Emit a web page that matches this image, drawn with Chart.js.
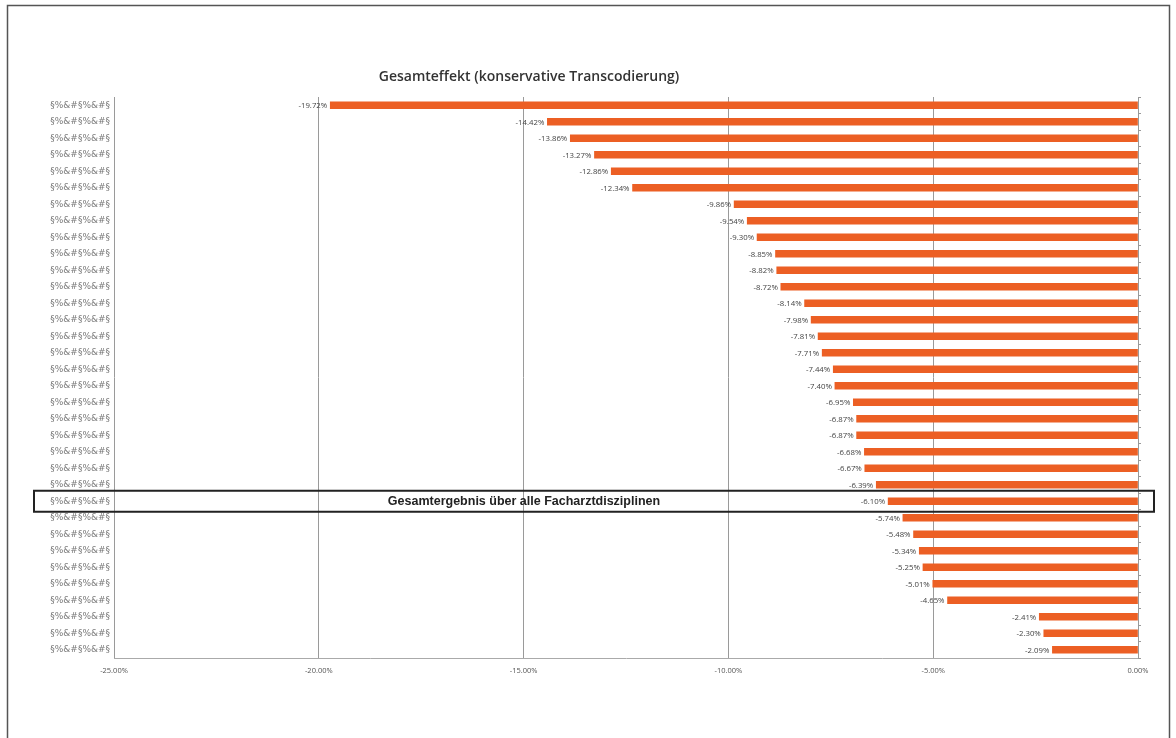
<!DOCTYPE html>
<html>
<head>
<meta charset="utf-8">
<script src="https://cdn.jsdelivr.net/npm/chart.js@4.4.1/dist/chart.umd.min.js"></script>
<style>
  html, body { margin: 0; padding: 0; background: #ffffff; }
  #wrap { width: 1176px; height: 738px; position: relative; }
</style>
</head>
<body>
<div id="wrap"><canvas id="c" width="1176" height="738"></canvas></div>
<script>
// ---- data ----
const chartTitle = "Gesamteffekt (konservative Transcodierung)";
const highlightText = "Gesamtergebnis über alle Facharztdisziplinen";
const highlightIndex = 24;
// category names are illegible (scrambled) in the reference; placeholder glyph strings
const categories = Array.from({length: 34}, () => "§%&#§%&#§");
const values = [
  -19.72, -14.42, -13.86, -13.27, -12.86, -12.34,
  -9.86, -9.54, -9.30, -8.85, -8.82, -8.72,
  -8.14, -7.98, -7.81, -7.71, -7.44, -7.40,
  -6.95, -6.87, -6.87, -6.68, -6.67, -6.39,
  -6.10,
  -5.74, -5.48, -5.34, -5.25, -5.01, -4.65,
  -2.41, -2.30, -2.09
];
const xMin = -25, xMax = 0, xStep = 5;

const overlay = {
  id: 'overlay',
  afterDatasetsDraw(chart) {
    const ctx = chart.ctx;
    const meta = chart.getDatasetMeta(0);
    ctx.save();
    // value labels
    ctx.font = '7.8px "Open Sans", sans-serif';
    ctx.fillStyle = '#444';
    ctx.textAlign = 'right';
    ctx.textBaseline = 'middle';
    meta.data.forEach((bar, i) => {
      ctx.fillText(values[i].toFixed(2) + '%', bar.x - 3, bar.y + 1);
    });
    ctx.restore();
  },
  afterDraw(chart) {
    const ctx = chart.ctx;
    const ys = chart.scales.y;
    ctx.save();
    // title
    ctx.font = '600 14px "Open Sans", sans-serif';
    ctx.fillStyle = '#333';
    ctx.textAlign = 'center';
    ctx.textBaseline = 'middle';
    ctx.fillText(chartTitle, 529, 77);
    // highlight box around overall result row
    const yc = ys.getPixelForValue(highlightIndex);
    ctx.lineWidth = 2;
    ctx.strokeStyle = '#222';
    ctx.strokeRect(34, yc - 10.5, 1120, 21);
    ctx.font = 'bold 12.5px "Liberation Sans", Arial, sans-serif';
    ctx.fillStyle = '#222';
    ctx.fillText(highlightText, 524, yc);
    // outer frame
    ctx.lineWidth = 1.5;
    ctx.strokeStyle = '#555';
    ctx.strokeRect(7.5, 5.5, 1162, 760);
    ctx.restore();
  }
};

new Chart(document.getElementById('c'), {
  type: 'bar',
  data: {
    labels: categories,
    datasets: [{
      data: values,
      backgroundColor: '#EC5F24',
      borderWidth: 0,
      barThickness: 7,
      yAxisID: 'y'
    }]
  },
  options: {
    indexAxis: 'y',
    responsive: false,
    animation: false,
    devicePixelRatio: 1,
    layout: { padding: { top: 97, left: 0, right: 0, bottom: 0 } },
    plugins: { legend: { display: false }, tooltip: { enabled: false }, title: { display: false } },
    scales: {
      x: {
        min: xMin, max: xMax,
        ticks: {
          stepSize: xStep,
          font: { size: 7.5, family: '"Open Sans", sans-serif' },
          color: '#555',
          padding: 8,
          callback: v => v.toFixed(2) + '%'
        },
        grid: { color: '#9a9a9a', lineWidth: 1, drawTicks: false },
        border: { display: true, color: '#aaa' },
        afterFit(s) { s.height = 80; }
      },
      y: {
        position: 'left',
        ticks: {
          font: { size: 9, family: '"DejaVu Sans", sans-serif' },
          color: '#7a7a7a',
          padding: -4
        },
        grid: { display: false },
        border: { display: false },
        afterFit(s) { s.width = 114; }
      },
      y2: {
        position: 'right',
        type: 'category',
        labels: categories,
        offset: true,
        ticks: { display: false },
        grid: { drawOnChartArea: false, drawTicks: true, tickLength: 3, color: '#999', offset: true },
        border: { display: true, color: '#999' },
        afterFit(s) { s.width = 38; }
      }
    }
  },
  plugins: [overlay]
});
</script>
</body>
</html>
